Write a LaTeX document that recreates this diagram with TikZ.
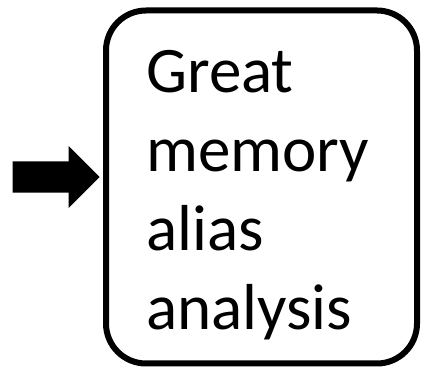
\documentclass[tikz,border=0pt]{standalone}
\usepackage{fontspec}
\setmainfont{Carlito}
\usetikzlibrary{shapes.arrows}
\tikzset{
  bigbox/.style={draw=black, line width=6pt, rounded corners=40pt, minimum width=311pt, minimum height=353pt, inner sep=0pt},
  boxtext/.style={align=left, inner sep=0pt, font=\fontsize{65pt}{79pt}\selectfont},
  blockarrow/.style={single arrow, fill=black, draw=none, inner xsep=0pt, inner ysep=15.5pt, minimum height=87pt, single arrow head extend=15.5pt, single arrow tip angle=90}
}
\begin{document}
\begin{tikzpicture}[x=1pt,y=1pt]
\useasboundingbox (0,0) rectangle (423,371);
\node[bigbox] (box) at (261.5,184) {};
\node[boxtext, anchor=north west] (txt) at (146,321) {Great\\memory\\alias\\analysis};
\node[blockarrow, anchor=tip] (arr) at (100,194) {};
\end{tikzpicture}
\end{document}
